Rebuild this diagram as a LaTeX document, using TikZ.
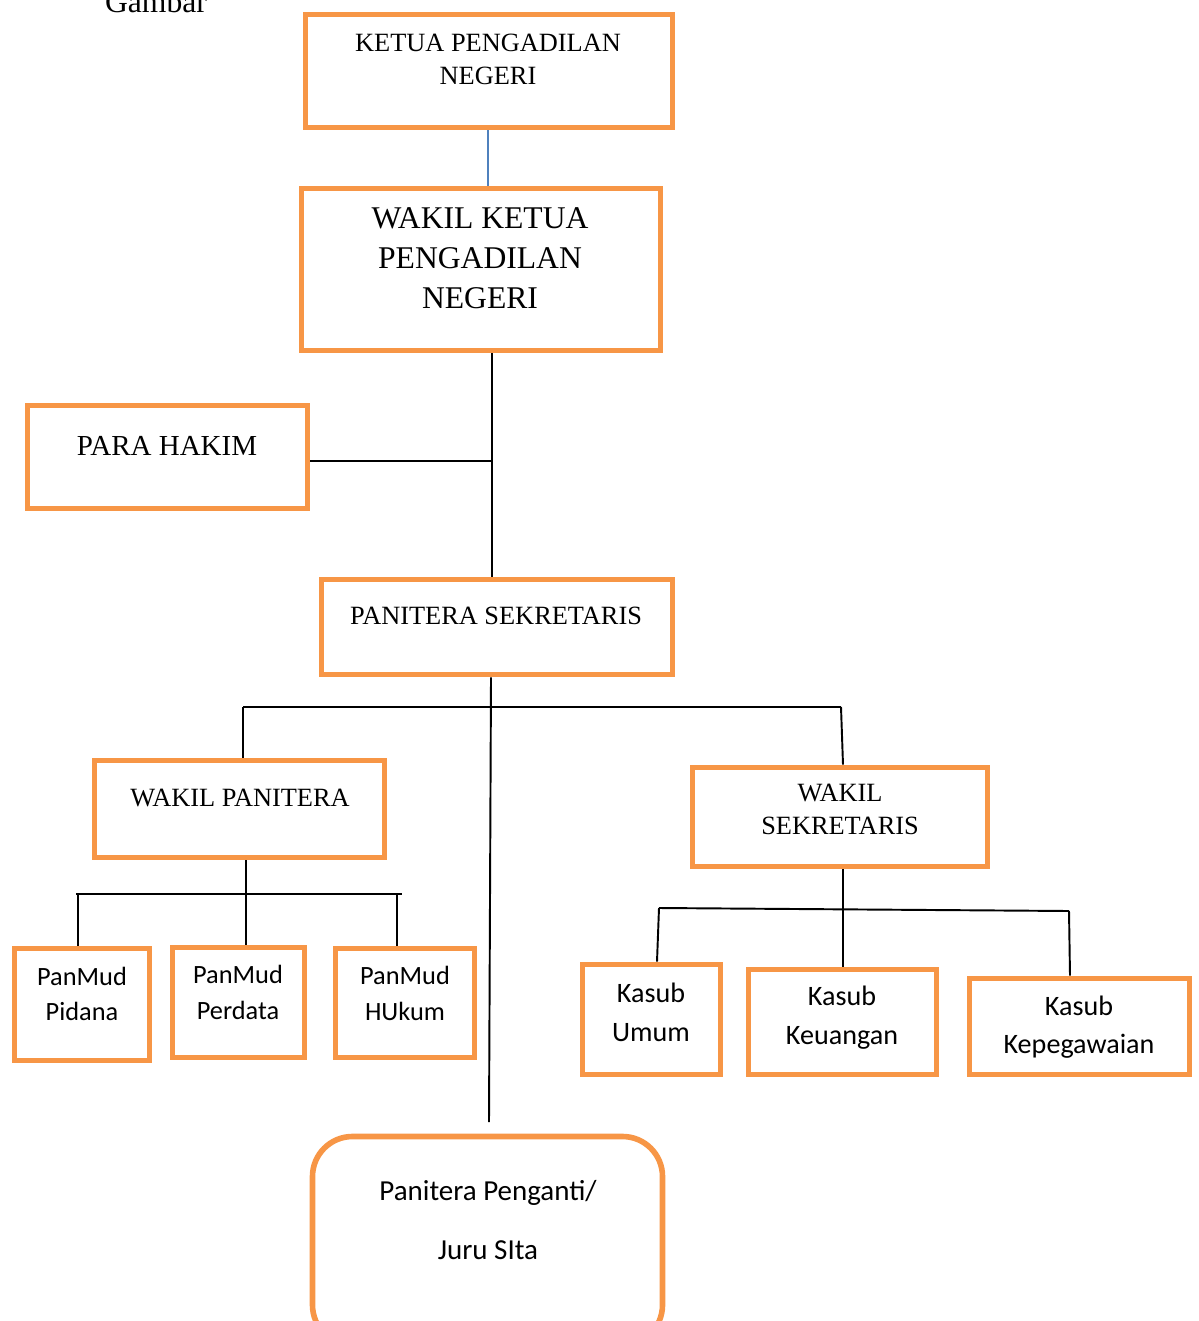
\documentclass[tikz,border=0pt]{standalone}
\usepackage{fontspec}
\setmainfont{Liberation Serif}
\newfontfamily\calibri{Carlito}
\usetikzlibrary{fit}
\definecolor{oranye}{HTML}{F79646}
\definecolor{biru}{HTML}{4F81BD}
\tikzset{
  jabatan/.style = {shape=rectangle, draw=oranye, line width=3.2pt, inner sep=0pt},
  seksi/.style   = {jabatan, rounded corners=0.8cm},
  judul/.style   = {align=center, font={\fontsize{15}{18.7}\selectfont}},
  besar/.style   = {align=center, font={\fontsize{18}{22.7}\selectfont}},
  kecil/.style   = {align=center, font={\calibri\fontsize{15}{20.2}\selectfont}},
  sedang/.style  = {align=center, font={\calibri\fontsize{16}{22}\selectfont}},
  garis/.style   = {draw, line width=1.1pt}
}

\begin{document}
\begin{tikzpicture}
        [
            x = 0.02cm,
            y = -0.02cm
        ]
    \clip (0,0) rectangle (1199,1321);

    \node [anchor=base, font={\fontsize{18}{20}\selectfont}] (gambar) at (156,13) {Gambar};

    % kotak jabatan
    \node [jabatan, fit={(305.5,14.5) (672.5,127.5)}] (ketua) {};
    \node [jabatan, fit={(301.5,188.5) (660.5,350.5)}] (wakilketua) {};
    \node [jabatan, fit={(27.5,405.5) (307.5,508.5)}] (hakim) {};
    \node [jabatan, fit={(321.5,579.5) (672.5,674.5)}] (panitera) {};
    \node [jabatan, fit={(94.5,760.5) (384.5,857.5)}] (wakpan) {};
    \node [jabatan, fit={(692.5,767.5) (987.5,866.5)}] (waksek) {};
    \node [jabatan, fit={(14.5,948.5) (149.5,1060.5)}] (pidana) {};
    \node [jabatan, fit={(172.5,947.5) (304.5,1057.5)}] (perdata) {};
    \node [jabatan, fit={(335.5,948.5) (474.5,1057.5)}] (hukum) {};
    \node [jabatan, fit={(582.5,964.5) (720.5,1074.5)}] (umum) {};
    \node [jabatan, fit={(748.5,969.5) (936.5,1074.5)}] (keuangan) {};
    \node [jabatan, fit={(969.5,978.5) (1189.5,1074.5)}] (pegawai) {};
    \node [seksi, fit={(312.5,1136.5) (662.5,1345)}] (pengganti) {};

    % teks
    \node [judul]  at (488,59.5)  {KETUA PENGADILAN\\NEGERI};
    \node [besar]  at (480,258)   {WAKIL KETUA\\PENGADILAN\\NEGERI};
    \node [besar, font={\fontsize{16.5}{20}\selectfont}] at (167,446) {PARA HAKIM};
    \node [judul]  at (496,616)   {PANITERA SEKRETARIS};
    \node [judul]  at (240,798)   {WAKIL PANITERA};
    \node [judul]  at (840,809.5) {WAKIL\\SEKRETARIS};
    \node [kecil]  at (82,994)    {PanMud\\Pidana};
    \node [kecil]  at (238,992.5) {PanMud\\Perdata};
    \node [kecil]  at (405,993.5) {PanMud\\HUkum};
    \node [sedang] at (651,1012.5) {Kasub\\Umum};
    \node [sedang] at (842,1017.5) {Kasub\\Keuangan};
    \node [sedang] at (1079,1027) {Kasub\\Kepegawaian};
    \node [sedang, font={\calibri\fontsize{16.5}{34}\selectfont}] at (488,1220) {Panitera Penganti/\\Juru SIta};

    % garis penghubung
    \coordinate (t1) at (492,461);
    \coordinate (bus1) at (243,707);
    \coordinate (bus2) at (841,707);
    \coordinate (ujung) at (489,1122);
    \coordinate (bus3) at (76,894);
    \coordinate (bus4) at (402,894);
    \coordinate (bus5) at (659,908);
    \coordinate (bus6) at (1069,911);

    \draw [biru, line width=0.9pt] (ketua.south -| 488,0) -- (wakilketua.north -| 488,0);
    \draw [garis] (wakilketua.south -| t1) -- (panitera.north -| t1);
    \draw [garis] (hakim.east |- t1) -- (t1);
    \draw [garis] (panitera.south -| 491,0) -- (ujung);
    \draw [garis] (bus1) -- (bus2);
    \draw [garis] (bus1) -- (wakpan.north -| bus1);
    \draw [garis] (bus2) -- (waksek.north -| 843,0);
    \draw [garis] (wakpan.south -| 246,0) -- (perdata.north -| 246,0);
    \draw [garis] (bus3) -- (bus4);
    \draw [garis] (78,894) -- (pidana.north -| 78,0);
    \draw [garis] (397,894) -- (hukum.north -| 397,0);
    \draw [garis] (waksek.south -| 843,0) -- (keuangan.north -| 843,0);
    \draw [garis] (bus5) -- (bus6);
    \draw [garis] (bus5) -- (umum.north -| 657,0);
    \draw [garis] (bus6) -- (pegawai.north -| 1070,0);

    \end{tikzpicture}
\end{document}
